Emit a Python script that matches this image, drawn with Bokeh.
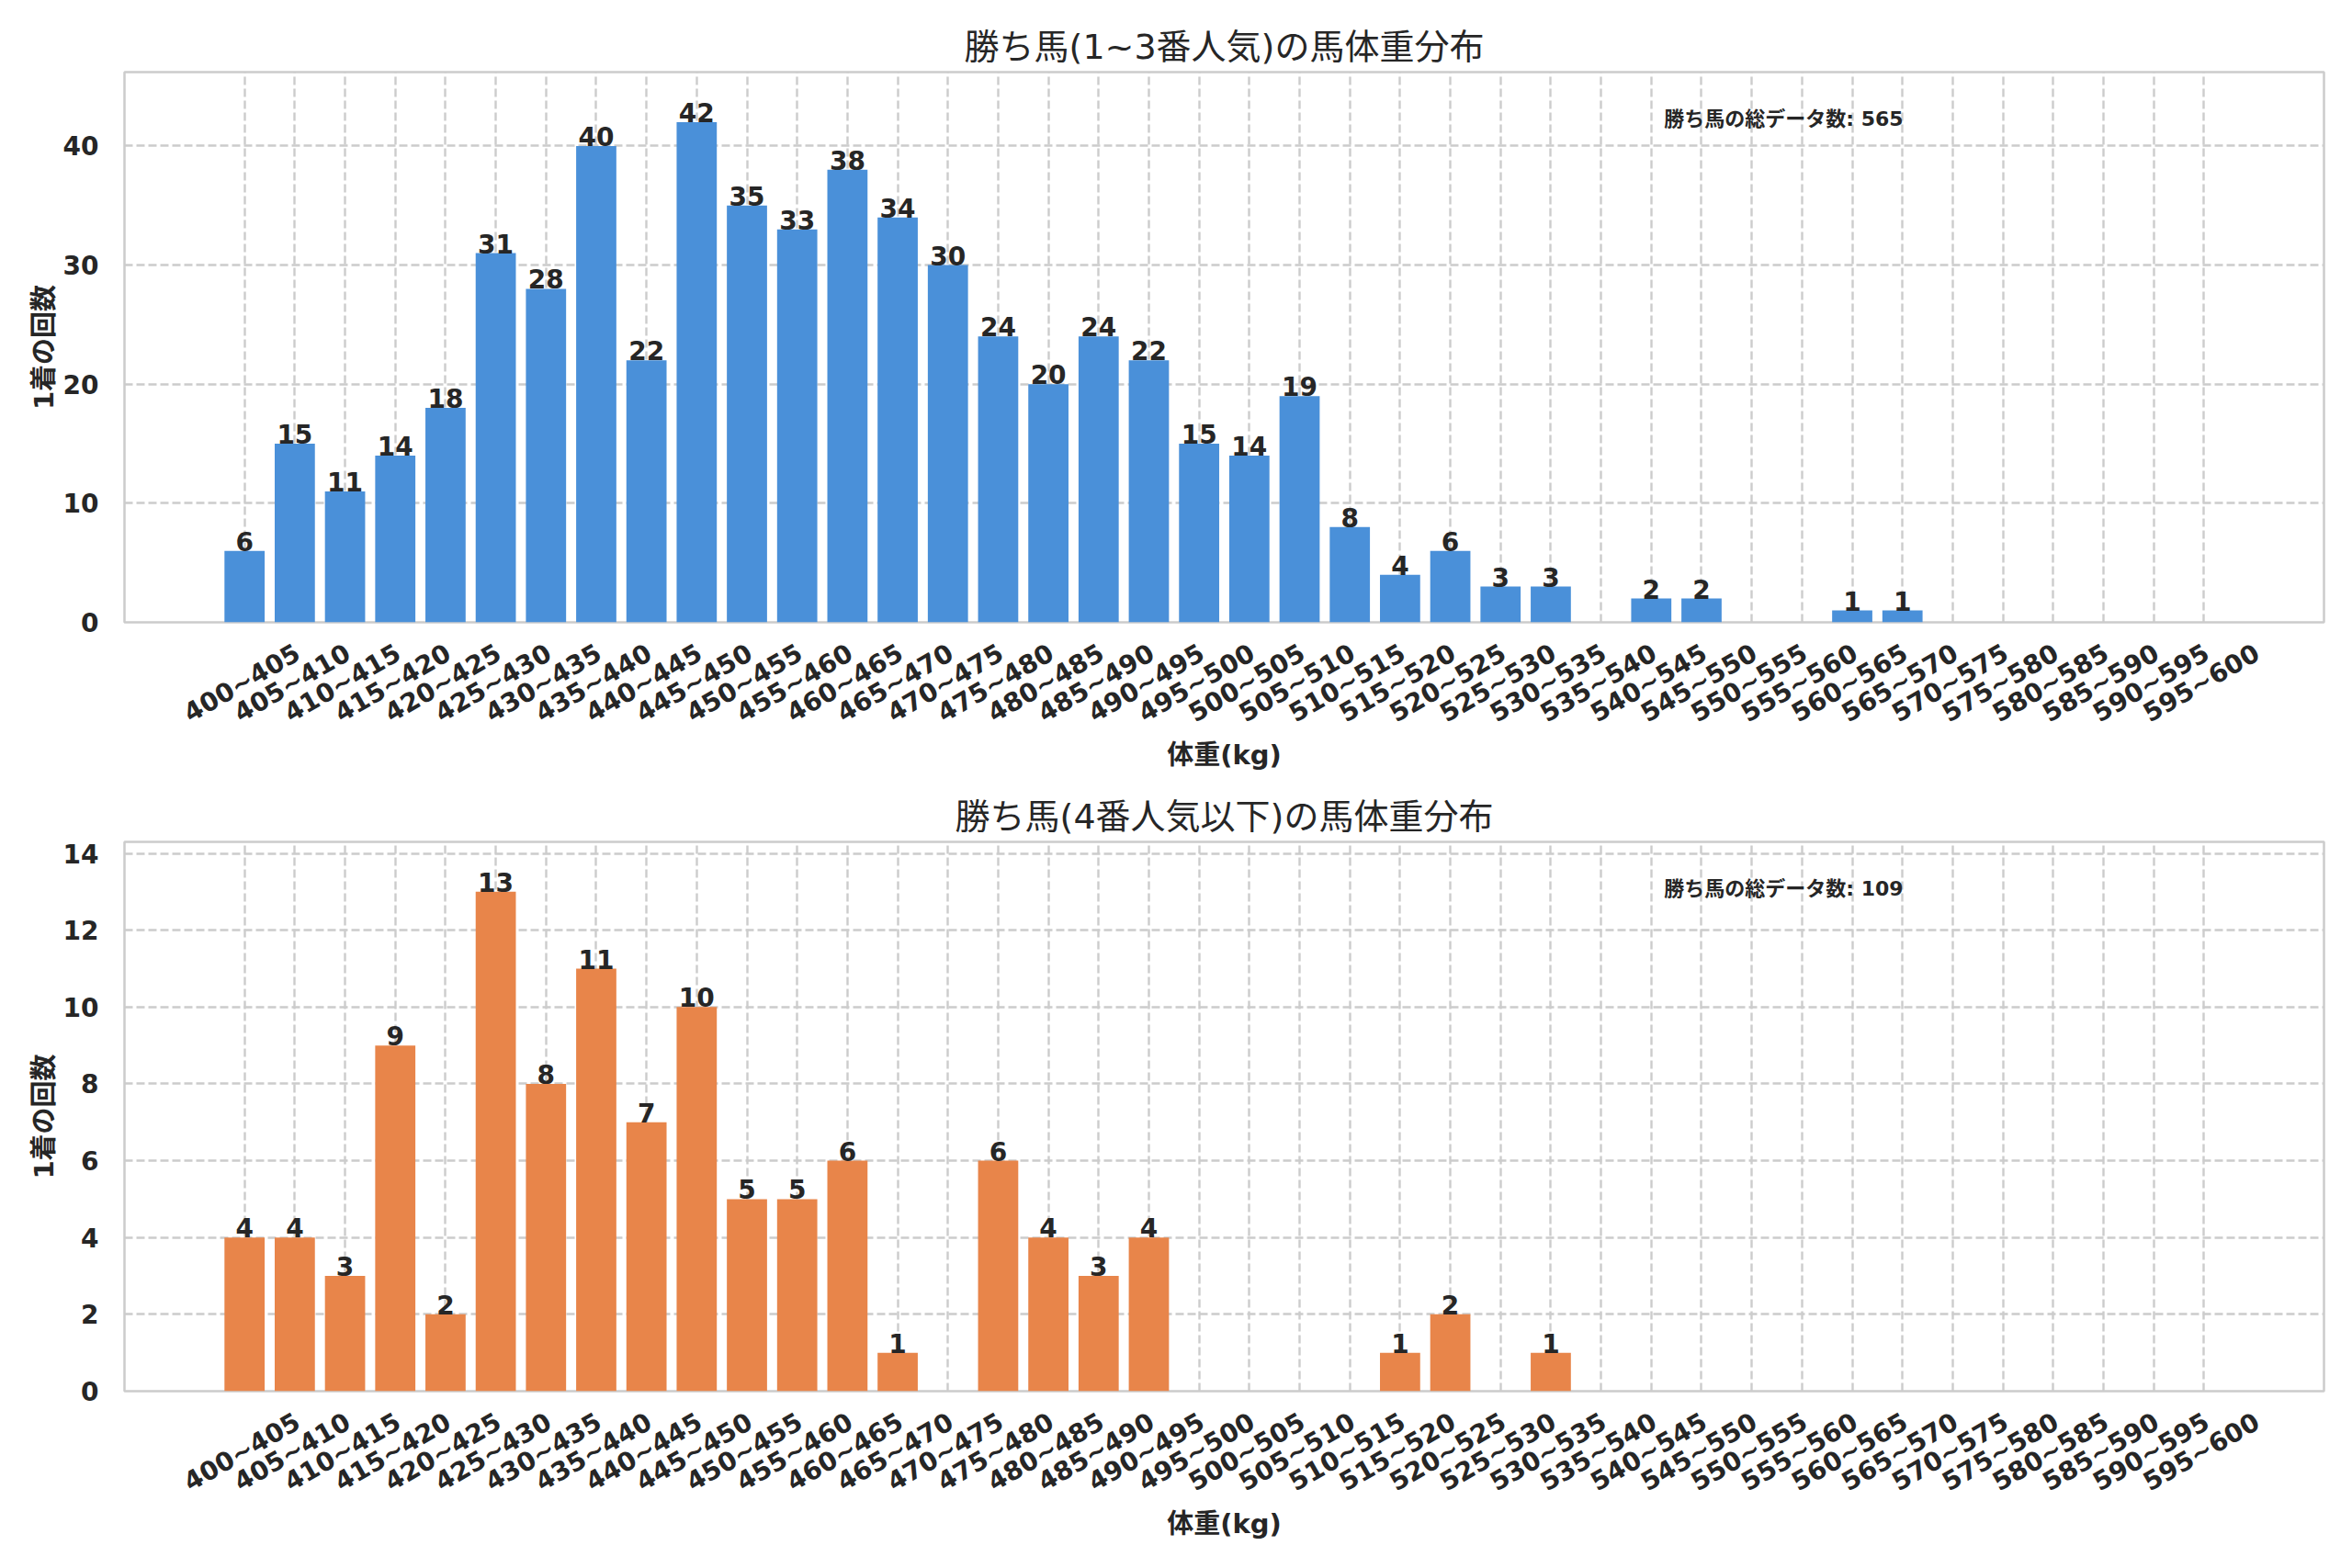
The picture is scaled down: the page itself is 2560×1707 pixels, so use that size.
import math
import numpy as np
from bokeh.plotting import figure
from bokeh.layouts import column
from bokeh.models import Range1d, FixedTicker, Label
from bokeh.core.properties import value
from bokeh.embed import file_html
from bokeh.resources import INLINE

# ---------------- data ----------------
bin_labels = ["400~405", "405~410", "410~415", "415~420", "420~425", "425~430",
              "430~435", "435~440", "440~445", "445~450", "450~455", "455~460",
              "460~465", "465~470", "470~475", "475~480", "480~485", "485~490",
              "490~495", "495~500", "500~505", "505~510", "510~515", "515~520",
              "520~525", "525~530", "530~535", "535~540", "540~545", "545~550",
              "550~555", "555~560", "560~565", "565~570", "570~575", "575~580",
              "580~585", "585~590", "590~595", "595~600"]

counts_top = [6, 15, 11, 14, 18, 31, 28, 40, 22, 42, 35, 33, 38, 34, 30, 24, 20, 24,
              22, 15, 14, 19, 8, 4, 6, 3, 3, 0, 2, 2, 0, 0, 1, 1, 0, 0, 0, 0, 0, 0]

counts_bottom = [4, 4, 3, 9, 2, 13, 8, 11, 7, 10, 5, 5, 6, 1, 0, 6, 4, 3, 4, 0,
                 0, 0, 0, 1, 2, 0, 1, 0, 0, 0, 0, 0, 0, 0, 0, 0, 0, 0, 0, 0]

title_top = "勝ち馬(1~3番人気)の馬体重分布"
title_bottom = "勝ち馬(4番人気以下)の馬体重分布"
x_label = "体重(kg)"
y_label = "1着の回数"
total_label = "勝ち馬の総データ数"

yticks_top = [0, 10, 20, 30, 40]
yticks_bottom = [0, 2, 4, 6, 8, 10, 12, 14]

color_top = "#4A90D9"
color_bottom = "#E8854A"

# ---------------- styling ----------------
TXT = "#262626"
GRID = "#cccccc"
FONT = "'DejaVu Sans', 'Noto Sans CJK JP'"
W = 2544
LABEL_SHIFT = 1.06   # moves rotated tick labels so that they are centred on the bars


def make_panel(counts, title, color, yticks, height, border_top, border_bottom):
    n = len(bin_labels)
    xs = np.arange(n)
    span = (n - 1) + 0.8
    x0 = -0.4 - 0.05 * span
    x1 = (n - 1) + 0.4 + 0.05 * span
    ymax = max(counts) * 1.1

    p = figure(width=W, height=height, output_backend="svg", toolbar_location=None,
               x_range=Range1d(x0, x1), y_range=Range1d(0, ymax),
               min_border_left=135, min_border_right=15,
               min_border_top=border_top, min_border_bottom=border_bottom)
    p.background_fill_color = "white"
    p.border_fill_color = "white"
    p.outline_line_color = GRID
    p.outline_line_width = 2.5

    p.title.text = title
    p.title.align = "center"
    p.title.text_font = FONT
    p.title.text_font_size = "38px"
    p.title.text_font_style = "normal"
    p.title.text_color = TXT
    p.title.standoff = 11

    p.vbar(x=xs, top=counts, width=0.8, fill_color=color, line_color=None)

    lx = [int(i) for i, c in zip(xs, counts) if c > 0]
    lc = [c for c in counts if c > 0]
    p.text(x=lx, y=lc, text=[str(c) for c in lc], text_align="center",
           text_baseline="bottom", text_font=value("DejaVu Sans"),
           text_font_size="28px", text_font_style="bold", text_color=TXT,
           y_offset=0)

    ax = p.xaxis[0]
    tick_pos = [i + LABEL_SHIFT for i in range(n)]
    ax.ticker = FixedTicker(ticks=tick_pos)
    ax.major_label_overrides = {t: lab for t, lab in zip(tick_pos, bin_labels)}
    ax.major_label_orientation = math.pi / 6
    ax.major_label_text_font = "DejaVu Sans"
    ax.major_label_text_font_size = "28px"
    ax.major_label_text_font_style = "bold"
    ax.major_label_text_color = TXT
    ax.major_label_standoff = 25
    ax.axis_label = x_label
    ax.axis_label_text_font = FONT
    ax.axis_label_text_font_size = "29px"
    ax.axis_label_text_font_style = "bold"
    ax.axis_label_text_color = TXT
    ax.axis_label_standoff = -5

    ay = p.yaxis[0]
    ay.ticker = FixedTicker(ticks=yticks)
    ay.major_label_text_font = "DejaVu Sans"
    ay.major_label_text_font_size = "28px"
    ay.major_label_text_font_style = "bold"
    ay.major_label_text_color = TXT
    ay.major_label_standoff = 22
    ay.axis_label = y_label
    ay.axis_label_text_font = FONT
    ay.axis_label_text_font_size = "29px"
    ay.axis_label_text_font_style = "bold"
    ay.axis_label_text_color = TXT
    ay.axis_label_standoff = 1

    for a in (ax, ay):
        a.axis_line_color = None
        a.major_tick_line_color = None
        a.minor_tick_line_color = None

    p.xgrid[0].ticker = FixedTicker(ticks=list(range(n)))
    for g in (p.xgrid[0], p.ygrid[0]):
        g.grid_line_color = GRID
        g.grid_line_width = 2.4
        g.grid_line_dash = "9 4"

    total = sum(counts)
    lbl = Label(x=x0 + 0.70 * (x1 - x0), y=ymax * 0.915,
                text=f"{total_label}: {total}", text_font=FONT,
                text_font_size="22px", text_font_style="bold", text_color=TXT,
                text_baseline="middle", text_align="left")
    p.add_layout(lbl)
    return p


p1 = make_panel(counts_top, title_top, color_top, yticks_top, 854, 78, 177)
p2 = make_panel(counts_bottom, title_bottom, color_bottom, yticks_bottom, 845, 62, 185)

layout = column(p1, p2)
open("out.html", "w").write(file_html(layout, INLINE))
